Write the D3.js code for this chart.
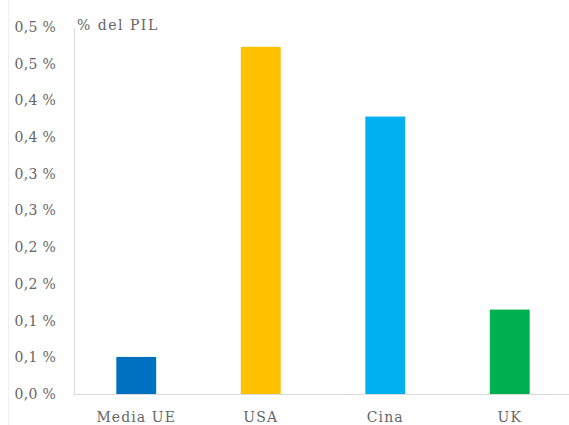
<!DOCTYPE html>
<html>
<head>
<meta charset="utf-8">
<script src="https://cdn.jsdelivr.net/npm/d3@7"></script>
<style>
  body { margin: 0; background: #fff; }
</style>
</head>
<body>
<div id="chart"></div>
<script>
const categories = ["Media UE", "USA", "Cina", "UK"];
const values = [0.0505, 0.473, 0.378, 0.115];
const colors = ["#0070C0", "#FFC000", "#00B0F0", "#00B050"];
const tickValues = [0, 0.05, 0.1, 0.15, 0.2, 0.25, 0.3, 0.35, 0.4, 0.45, 0.5];
const unitLabel = "% del PIL";

const width = 569;
const height = 425;
const margin = { left: 74, right: -3, top: 27, bottom: 31 };
const fontFamily = "'DejaVu Serif', serif";
const textColor = "#666666";

const svg = d3.select("#chart").append("svg")
  .attr("width", width)
  .attr("height", height)
  .attr("font-family", fontFamily);

const x = d3.scaleBand()
  .domain(categories)
  .range([margin.left, width - margin.right])
  .paddingInner(0.68)
  .paddingOuter(0.34);

const y = d3.scaleLinear()
  .domain([0, 0.5])
  .range([height - margin.bottom, margin.top]);

// faint chart frame on the left
svg.append("line")
  .attr("x1", 8.5).attr("x2", 8.5)
  .attr("y1", 0).attr("y2", height)
  .attr("stroke", "#f0f0f0");

// y axis labels
const fmt = v => d3.format(".1f")(v + 1e-9).replace(".", ",") + " %";
svg.selectAll(".ytick")
  .data(tickValues)
  .enter()
  .append("text")
  .attr("class", "ytick")
  .attr("x", 56)
  .attr("y", d => y(d))
  .attr("dy", "0.35em")
  .attr("text-anchor", "end")
  .attr("font-size", "14px")
  .attr("letter-spacing", "0.3px")
  .attr("fill", textColor)
  .text(fmt);

// vertical axis line
svg.append("line")
  .attr("x1", margin.left + 0.5).attr("x2", margin.left + 0.5)
  .attr("y1", y(0.5) + 1).attr("y2", y(0))
  .attr("stroke", "#d9d9d9");

// bars
svg.selectAll(".bar")
  .data(values)
  .enter()
  .append("rect")
  .attr("class", "bar")
  .attr("x", (d, i) => x(categories[i]))
  .attr("width", x.bandwidth())
  .attr("y", d => y(d))
  .attr("height", d => y(0) - y(d))
  .attr("fill", (d, i) => colors[i]);

// baseline
svg.append("line")
  .attr("x1", margin.left).attr("x2", width)
  .attr("y1", y(0) + 0.5).attr("y2", y(0) + 0.5)
  .attr("stroke", "#d9d9d9");

// category labels
svg.selectAll(".xlabel")
  .data(categories)
  .enter()
  .append("text")
  .attr("class", "xlabel")
  .attr("x", d => x(d) + x.bandwidth() / 2)
  .attr("y", y(0) + 23)
  .attr("dy", "0.35em")
  .attr("text-anchor", "middle")
  .attr("font-size", "14px")
  .attr("letter-spacing", "1.1px")
  .attr("fill", textColor)
  .text(d => d);

// unit label
svg.append("text")
  .attr("x", 77)
  .attr("y", 25)
  .attr("dy", "0.35em")
  .attr("font-size", "14px")
  .attr("letter-spacing", "1.5px")
  .attr("fill", textColor)
  .text(unitLabel);
</script>
</body>
</html>
